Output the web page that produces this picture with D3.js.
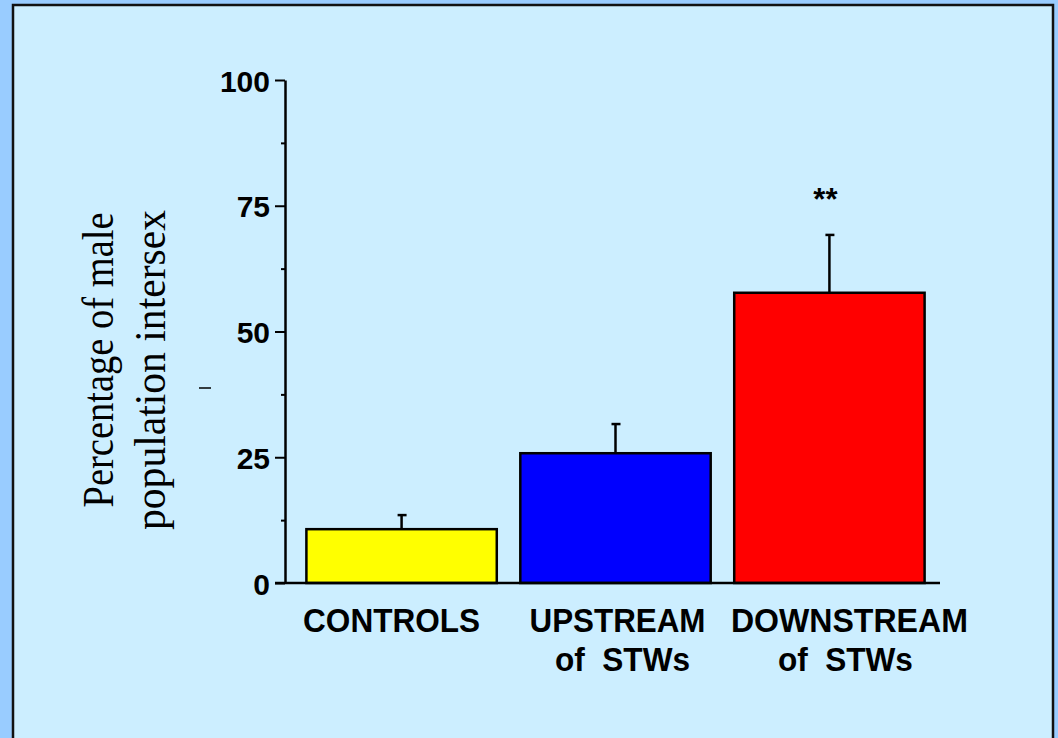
<!DOCTYPE html>
<html>
<head>
<meta charset="utf-8">
<script src="https://cdn.jsdelivr.net/npm/d3@7"></script>
<style>
  body { margin: 0; background: #99ccff; }
  svg { display: block; }
  .tick-label { font-family: "Liberation Sans", Arial, sans-serif; font-weight: bold; }
</style>
</head>
<body>
<div id="chart"></div>
<script>
// Chart data
var categories = ['CONTROLS', 'UPSTREAM', 'DOWNSTREAM'];
var subLabels = ['', 'of  STWs', 'of  STWs'];
var means = [10.7, 25.8, 57.7];
var errors = [2.8, 5.8, 11.5];
var barColors = ['#ffff00', '#0000ff', '#ff0000'];
var significance = ['', '', '**'];
var majorTicks = [0, 25, 50, 75, 100];
var minorTicks = [12.5, 37.5, 62.5, 87.5];

var width = 1058, height = 738;

var svg = d3.select('#chart').append('svg')
    .attr('width', width)
    .attr('height', height);

// outer background + light panel
svg.append('rect')
    .attr('width', width).attr('height', height)
    .attr('fill', '#99ccff');
svg.append('rect')
    .attr('x', 13).attr('y', 5)
    .attr('width', 1040).attr('height', 760)
    .attr('fill', '#cceeff')
    .attr('stroke', '#111')
    .attr('stroke-width', 2.5);

var y = d3.scaleLinear().domain([0, 100]).range([583, 80]);
var x = d3.scaleBand()
    .domain(categories)
    .range([285, 946])
    .paddingInner(0.11)
    .paddingOuter(0.1);

// Bars
svg.selectAll('.bar')
    .data(categories)
    .enter()
    .append('rect')
    .attr('class', 'bar')
    .attr('x', function(d) { return x(d); })
    .attr('y', function(d, i) { return y(means[i]); })
    .attr('width', x.bandwidth())
    .attr('height', function(d, i) { return y(0) - y(means[i]); })
    .attr('fill', function(d, i) { return barColors[i]; })
    .attr('stroke', '#000')
    .attr('stroke-width', 2.5);

// Error bars (upper only)
var errG = svg.selectAll('.err')
    .data(categories)
    .enter()
    .append('g')
    .attr('class', 'err')
    .attr('stroke', '#000')
    .attr('stroke-width', 2.5);
errG.append('line')
    .attr('x1', function(d) { return x(d) + x.bandwidth() / 2; })
    .attr('x2', function(d) { return x(d) + x.bandwidth() / 2; })
    .attr('y1', function(d, i) { return y(means[i]); })
    .attr('y2', function(d, i) { return y(means[i] + errors[i]); });
errG.append('line')
    .attr('x1', function(d) { return x(d) + x.bandwidth() / 2 - 4; })
    .attr('x2', function(d) { return x(d) + x.bandwidth() / 2 + 5; })
    .attr('y1', function(d, i) { return y(means[i] + errors[i]); })
    .attr('y2', function(d, i) { return y(means[i] + errors[i]); });

// Significance stars
svg.selectAll('.sig')
    .data(categories)
    .enter()
    .append('text')
    .attr('class', 'tick-label')
    .attr('x', function(d, i) { return x(d) + x.bandwidth() / 2 - 4; })
    .attr('y', function(d, i) { return y(means[i] + errors[i]) - 25; })
    .attr('text-anchor', 'middle')
    .attr('font-size', 31)
    .text(function(d, i) { return significance[i]; });

// Y axis
var yAxis = svg.append('g')
    .attr('transform', 'translate(285,0)')
    .call(d3.axisLeft(y).tickValues(majorTicks).tickSize(10).tickSizeOuter(0).tickPadding(5));
yAxis.select('.domain').attr('stroke-width', 2.5);
yAxis.selectAll('.tick line').attr('stroke-width', 2);
yAxis.selectAll('.tick text')
    .attr('class', 'tick-label')
    .attr('font-size', 30)
    .attr('dy', '0.37em');

var yMinor = svg.append('g')
    .attr('transform', 'translate(285,0)')
    .call(d3.axisLeft(y).tickValues(minorTicks).tickSize(4).tickFormat(''));
yMinor.select('.domain').remove();
yMinor.selectAll('.tick line').attr('stroke-width', 2);

// X axis baseline
svg.append('line')
    .attr('x1', 275).attr('x2', 940)
    .attr('y1', y(0)).attr('y2', y(0))
    .attr('stroke', '#000')
    .attr('stroke-width', 2.5);

// Category labels (condensed bold, as in the original slide)
var labelOffsets = [-10, 2, 20];
var labelWidths = [177, 176, 237];
svg.selectAll('.cat')
    .data(categories)
    .enter()
    .append('text')
    .attr('class', 'tick-label')
    .attr('x', function(d, i) { return x(d) + x.bandwidth() / 2 + labelOffsets[i]; })
    .attr('y', 632)
    .attr('text-anchor', 'middle')
    .attr('font-size', 34)
    .attr('textLength', function(d, i) { return labelWidths[i]; })
    .attr('lengthAdjust', 'spacingAndGlyphs')
    .text(function(d) { return d; });
svg.selectAll('.sub')
    .data(categories)
    .enter()
    .append('text')
    .attr('class', 'tick-label')
    .attr('x', function(d, i) { return x(d) + x.bandwidth() / 2 + 6 + labelOffsets[i] / 2; })
    .attr('y', 671)
    .attr('text-anchor', 'middle')
    .attr('font-size', 34)
    .attr('textLength', function(d, i) { return subLabels[i] ? 135 : null; })
    .attr('lengthAdjust', 'spacingAndGlyphs')
    .style('white-space', 'pre')
    .text(function(d, i) { return subLabels[i]; });

// Y axis title
var title = svg.append('text')
    .attr('transform', 'translate(0,362) rotate(-90)')
    .attr('text-anchor', 'middle')
    .attr('font-family', '"Liberation Serif", "Times New Roman", serif')
    .attr('font-size', 44);
title.append('tspan').attr('x', 2).attr('y', 113)
    .attr('textLength', 295).attr('lengthAdjust', 'spacingAndGlyphs')
    .text('Percentage of male');
title.append('tspan').attr('x', -8).attr('y', 165)
    .attr('textLength', 320).attr('lengthAdjust', 'spacingAndGlyphs')
    .text('population intersex');

// stray dash left of axis
svg.append('line')
    .attr('x1', 199).attr('x2', 211)
    .attr('y1', 388).attr('y2', 388)
    .attr('stroke', '#000')
    .attr('stroke-width', 1.5);
</script>
</body>
</html>
